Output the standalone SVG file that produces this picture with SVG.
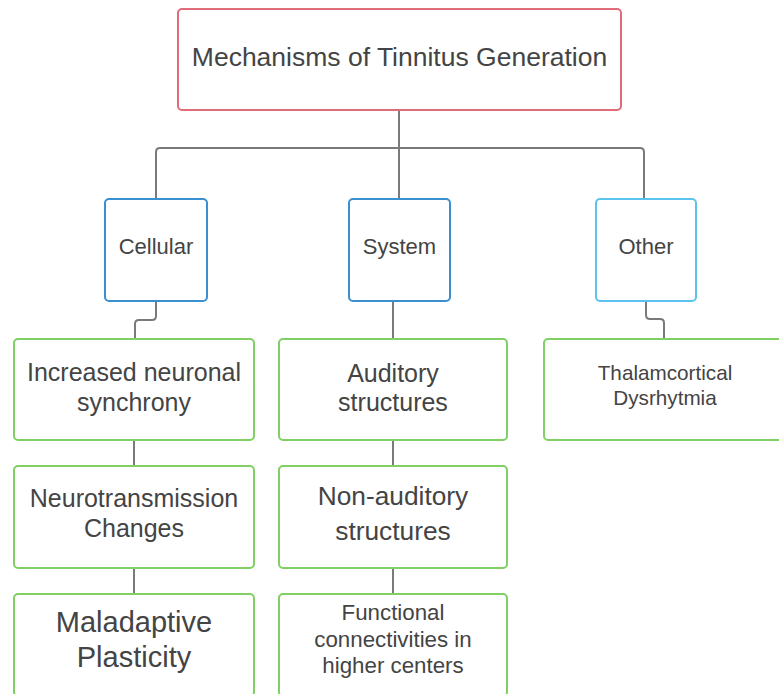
<svg xmlns="http://www.w3.org/2000/svg" width="779" height="694" viewBox="0 0 779 694">
<style>
  .bg { fill: #ffffff; }
  .box { fill: #ffffff; stroke-width: 2; }
  .root { stroke: #e06b79; }
  .blue { stroke: #3a8fd1; }
  .lblue { stroke: #5cc3ee; }
  .green { stroke: #80d064; }
  .conn { fill: none; stroke: #7a7a7a; stroke-width: 2; }
  text { font-family: "Liberation Sans", Arial, sans-serif; fill: #444444; text-anchor: middle; }
</style>
<rect class="bg" x="0" y="0" width="779" height="694"/>
<g id="connectors">
  <path class="conn" d="M399 110 V148"/>
  <path class="conn" d="M156 199 V152 Q156 148 160 148 H640 Q644 148 644 152 V199"/>
  <path class="conn" d="M399 148 V199"/>
  <path class="conn" d="M156 301 V316 Q156 320 152 320 H139 Q135 320 135 324 V339"/>
  <path class="conn" d="M393 301 V339"/>
  <path class="conn" d="M646 301 V315 Q646 319 650 319 H660 Q664 319 664 323 V339"/>
  <path class="conn" d="M134 440 V466"/>
  <path class="conn" d="M134 568 V594"/>
  <path class="conn" d="M393 440 V466"/>
  <path class="conn" d="M393 568 V594"/>
</g>
<g id="root">
  <rect class="box root" x="178" y="9" width="443" height="101" rx="4"/>
  <text x="399.5" y="65.5" font-size="26.5">Mechanisms of Tinnitus Generation</text>
</g>
<g id="cellular">
  <rect class="box blue" x="105" y="199" width="102" height="102" rx="4"/>
  <text x="156" y="254" font-size="22">Cellular</text>
</g>
<g id="system">
  <rect class="box blue" x="349" y="199" width="101" height="102" rx="4"/>
  <text x="399.5" y="254" font-size="22">System</text>
</g>
<g id="other">
  <rect class="box lblue" x="596" y="199" width="100" height="102" rx="4"/>
  <text x="646" y="254" font-size="22">Other</text>
</g>
<g id="increased">
  <rect class="box green" x="14" y="339" width="240" height="101" rx="4"/>
  <text x="134" y="381" font-size="25">Increased neuronal</text>
  <text x="134" y="411" font-size="25">synchrony</text>
</g>
<g id="neurotransmission">
  <rect class="box green" x="14" y="466" width="240" height="102" rx="4"/>
  <text x="134" y="507" font-size="25">Neurotransmission</text>
  <text x="134" y="537" font-size="25">Changes</text>
</g>
<g id="maladaptive">
  <rect class="box green" x="14" y="594" width="240" height="102" rx="4"/>
  <text x="134" y="632" font-size="29">Maladaptive</text>
  <text x="134" y="667" font-size="29">Plasticity</text>
</g>
<g id="auditory">
  <rect class="box green" x="279" y="339" width="228" height="101" rx="4"/>
  <text x="393" y="382" font-size="25">Auditory</text>
  <text x="393" y="411" font-size="25">structures</text>
</g>
<g id="nonauditory">
  <rect class="box green" x="279" y="466" width="228" height="102" rx="4"/>
  <text x="393" y="505" font-size="26.3">Non-auditory</text>
  <text x="393" y="539.5" font-size="26.3">structures</text>
</g>
<g id="functional">
  <rect class="box green" x="279" y="594" width="228" height="102" rx="4"/>
  <text x="393" y="620" font-size="22.3">Functional</text>
  <text x="393" y="646.5" font-size="22.3">connectivities in</text>
  <text x="393" y="673" font-size="22.3">higher centers</text>
</g>
<g id="thalamcortical">
  <rect class="box green" x="544" y="339" width="242" height="101" rx="4"/>
  <text x="665" y="380" font-size="20.7">Thalamcortical</text>
  <text x="665" y="405" font-size="20.7">Dysrhytmia</text>
</g>
</svg>
